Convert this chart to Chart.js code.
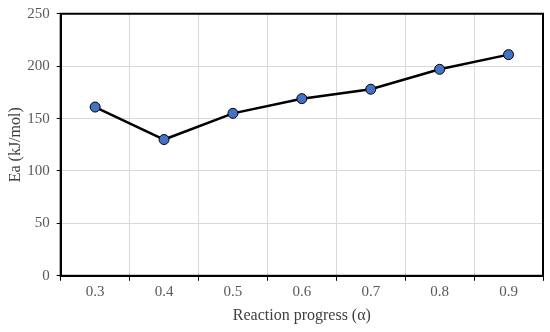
<!DOCTYPE html>
<html><head><meta charset="utf-8">
<script src="https://cdn.jsdelivr.net/npm/chart.js@4"></script>
<style>html,body{margin:0;padding:0;background:#fff}#wrap{width:550px;height:332px}</style>
</head><body><div id="wrap"><canvas id="c"></canvas></div>
<script>
const categories = ['0.3','0.4','0.5','0.6','0.7','0.8','0.9'];
const eaValues = [161, 130, 155, 169, 178, 197, 211];
const yTicks = [0, 50, 100, 150, 200, 250];

const frame = {
  id: 'frame',
  afterDraw(chart) {
    const {ctx, chartArea: a} = chart;
    ctx.save();
    ctx.strokeStyle = '#000';
    ctx.lineWidth = 2;
    ctx.strokeRect(a.left, a.top, a.right - a.left, a.bottom - a.top);
    ctx.restore();
  }
};

new Chart(document.getElementById('c'), {
  type: 'line',
  data: {
    labels: categories,
    datasets: [{
      data: eaValues,
      borderColor: '#000',
      borderWidth: 2.5,
      pointBackgroundColor: '#4472C4',
      pointBorderColor: '#000',
      pointBorderWidth: 1,
      pointRadius: 5,
      tension: 0
    }]
  },
  options: {
    responsive: true,
    maintainAspectRatio: false,
    animation: false,
    layout: {padding: {top: 0, right: 7, left: 6, bottom: 7}},
    plugins: {legend: {display: false}, tooltip: {enabled: false}},
    scales: {
      x: {
        offset: true,
        grid: {offset: true, color: '#d9d9d9', lineWidth: 1, tickColor: '#000', tickLength: 5, drawTicks: true},
        border: {color: '#000', width: 2},
        ticks: {color: '#595959', font: {family: 'Liberation Serif', size: 15}, padding: 2},
        title: {display: true, text: 'Reaction progress (α)', color: '#404040', font: {family: 'Liberation Serif', size: 16}, padding: {top: 3, bottom: 0}}
      },
      y: {
        min: 0, max: 250,
        afterBuildTicks(s) { s.ticks = yTicks.map(v => ({value: v})); },
        grid: {color: '#d9d9d9', lineWidth: 1, tickColor: '#000', tickLength: 4},
        border: {color: '#000', width: 2},
        ticks: {color: '#595959', font: {family: 'Liberation Serif', size: 15, lineHeight: 0.9}, padding: 7},
        title: {display: true, text: 'Ea (kJ/mol)', color: '#404040', font: {family: 'Liberation Serif', size: 16}, padding: {top: 0, bottom: -5}}
      }
    }
  },
  plugins: [frame]
});
</script></body></html>
